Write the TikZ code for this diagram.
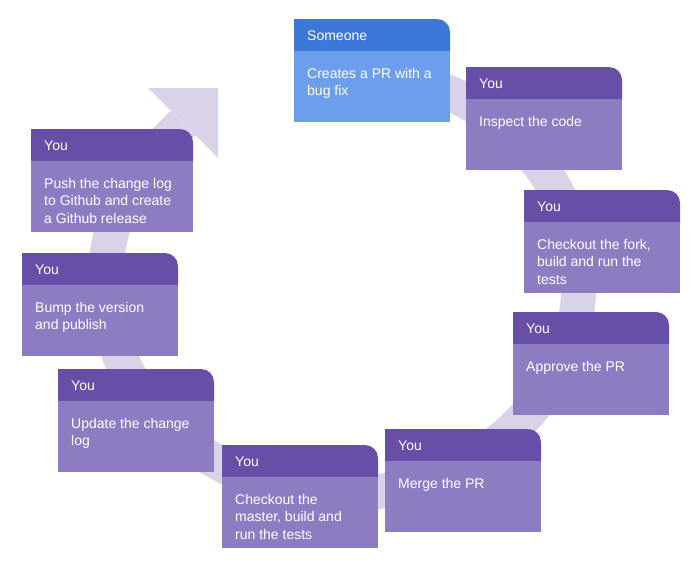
\documentclass[tikz,border=0pt]{standalone}
\usepackage{fontspec}
\setmainfont{Liberation Sans}
\definecolor{band}{HTML}{D9D2E9}
\definecolor{bluehead}{HTML}{3C78D8}
\definecolor{bluebody}{HTML}{6D9EEB}
\definecolor{purphead}{HTML}{674EA7}
\definecolor{purpbody}{HTML}{8E7CC3}
\tikzset{
  headtext/.style={anchor=base west, inner sep=0pt, text=white, font=\fontsize{14}{17.5}\selectfont},
  bodytext/.style={anchor=north west, inner sep=0pt, text=white, align=left, font=\fontsize{14}{17.5}\selectfont},
  ring/.style={draw=band, line width=35pt, line cap=butt},
}
% #1 name, #2 x, #3 y, #4 width, #5 head colour, #6 body colour, #7 header text, #8 body text
\newcommand\flowcard[8]{%
  \fill[#5] (#2,#3+32) -- (#2,#3) -- (#2+#4-13,#3) arc[start angle=-90, end angle=0, radius=13] -- (#2+#4,#3+32) -- cycle;
  \fill[#6] (#2,#3+32) rectangle (#2+#4,#3+103);
  \node[headtext] (#1h) at (#2+13,#3+21.3) {#7};
  \node[bodytext] (#1b) at (#2+13,#3+32+16.8) {#8};
}
\begin{document}
\begin{tikzpicture}[x=1pt,y=-1pt]
\useasboundingbox (0,0) rectangle (700,570);
% circular arrow in the background
\draw[ring] (342,282) ++(-80:237 and 212) arc[start angle=-80, end angle=205, x radius=237, y radius=212]
   .. controls (141.1,165.8) and (161.8,144.2) .. (183,123);
\fill[band] (148,88) -- (218,88) -- (218,158) -- cycle;
% cards
\flowcard{c1}{294}{19}{156}{bluehead}{bluebody}{Someone}{Creates a PR with a\\bug fix}
\flowcard{c2}{466}{67}{156}{purphead}{purpbody}{You}{Inspect the code}
\flowcard{c3}{524}{190}{156}{purphead}{purpbody}{You}{Checkout the fork,\\build and run the\\tests}
\flowcard{c4}{513}{312}{156}{purphead}{purpbody}{You}{Approve the PR}
\flowcard{c5}{385}{429}{156}{purphead}{purpbody}{You}{Merge the PR}
\flowcard{c6}{222}{445}{156}{purphead}{purpbody}{You}{Checkout the\\master, build and\\run the tests}
\flowcard{c7}{58}{369}{156}{purphead}{purpbody}{You}{Update the change\\log}
\flowcard{c8}{22}{253}{156}{purphead}{purpbody}{You}{Bump the version\\and publish}
\flowcard{c9}{31}{129}{162}{purphead}{purpbody}{You}{Push the change log\\to Github and create\\a Github release}
\end{tikzpicture}
\end{document}
